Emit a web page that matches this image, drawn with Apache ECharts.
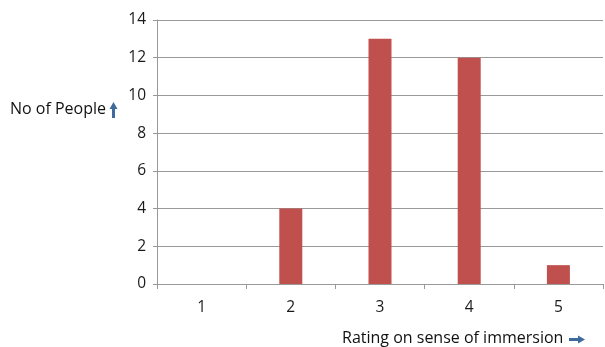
<!DOCTYPE html>
<html><head><meta charset="utf-8">
<script src="https://cdn.jsdelivr.net/npm/echarts@6/dist/echarts.min.js"></script>
<style>html,body{margin:0;padding:0;background:#fff}#c{width:605px;height:347px}</style>
</head><body><div id="c"></div>
<script>
const categories = ['1','2','3','4','5'];
const values = [0, 4, 13, 12, 1];
const yTicks = [0, 2, 4, 6, 8, 10, 12, 14];
const yTitle = 'No of People';
const xTitle = 'Rating on sense of immersion';

const chart = echarts.init(document.getElementById('c'), null, {renderer:'canvas'});
const font = 'Open Sans, Liberation Sans, sans-serif';
chart.setOption({
  animation: false,
  grid: {left: 157, right: 2, top: 20, bottom: 63},
  xAxis: {
    type: 'category', data: categories,
    axisLine: {lineStyle: {color: '#999', width: 1}},
    axisTick: {show: true, alignWithLabel: false, length: 5, lineStyle: {color: '#999'}},
    axisLabel: {color: '#1a1a1a', fontSize: 15.5, fontFamily: font, margin: 16}
  },
  yAxis: {
    type: 'value', min: yTicks[0], max: yTicks[yTicks.length-1], interval: 2,
    axisLine: {show: true, lineStyle: {color: '#999'}},
    axisTick: {show: true, length: 4, lineStyle: {color: '#999'}},
    splitLine: {lineStyle: {color: '#999'}},
    axisLabel: {color: '#1a1a1a', fontSize: 15.5, fontFamily: font, margin: 11}
  },
  series: [{
    type: 'bar', data: values, barWidth: 23,
    itemStyle: {color: '#C0504D'}
  }],
  graphic: [
    {type: 'text', left: 10, top: 101, style: {text: yTitle, fontSize: 16, fontFamily: font, fill: '#111'}},
    {type: 'polygon', shape: {points: [[113.5,102],[109.5,109],[112,109],[112,118],[115,118],[115,109],[117.5,109]]}, style: {fill: '#3E6A9C'}},
    {type: 'text', left: 342, top: 330, style: {text: xTitle, fontSize: 16, fontFamily: font, fill: '#111'}},
    {type: 'polygon', shape: {points: [[585,339.5],[578,335.5],[578,338],[569,338],[569,341],[578,341],[578,343.5]]}, style: {fill: '#3E6A9C'}}
  ]
});
</script></body></html>
